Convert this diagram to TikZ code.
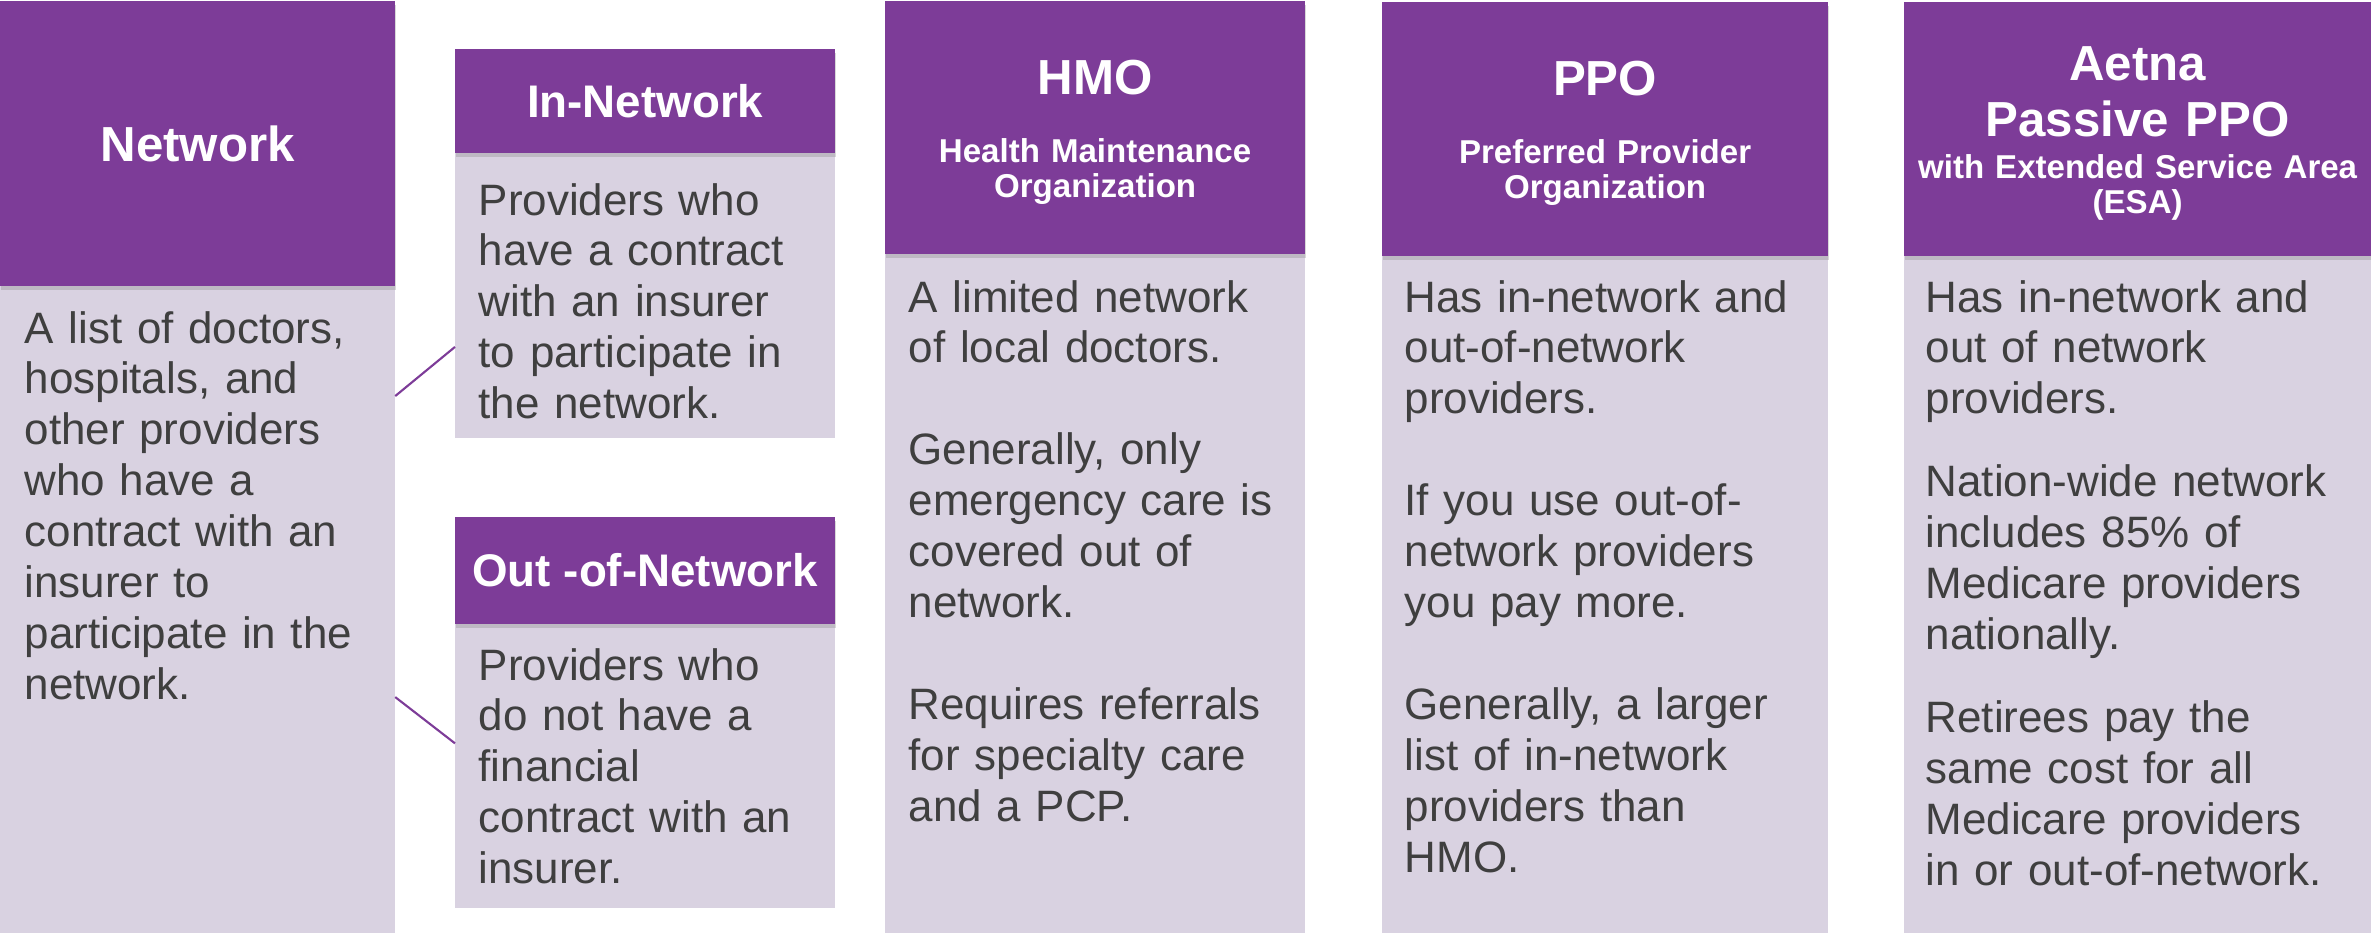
\documentclass[tikz,border=0pt]{standalone}
\usepackage{fontspec}
\setmainfont{Liberation Sans}
\usetikzlibrary{calc,shadows}

\definecolor{aetpurple}{HTML}{7D3C98}
\definecolor{aetlilac}{HTML}{D9D2E1}
\definecolor{bodygrey}{HTML}{3F3F3F}

\tikzset{
  headbox/.style={rectangle, fill=aetpurple, anchor=north west, inner sep=0pt, outer sep=0pt,
    text=white, font=\bfseries\fontsize{14}{16.2}\selectfont,
    drop shadow={shadow xshift=0.3pt, shadow yshift=-1.2pt, opacity=0.3}},
  smallhead/.style={font=\bfseries\fontsize{13}{15}\selectfont},
  bodybox/.style={rectangle, fill=aetlilac, anchor=north west, inner sep=0pt, outer sep=0pt},
  bodytext/.style={anchor=base west, inner sep=0pt, text width=4.4cm, align=left,
    text=bodygrey, font=\fontsize{12.5}{14.5}\selectfont},
  headtitle/.style={anchor=base, inner sep=0pt, align=center, text=white,
    font=\bfseries\fontsize{14}{16.2}\selectfont},
  subtitle/.style={anchor=base, inner sep=0pt, align=center, text=white,
    font=\bfseries\fontsize{9.4}{10.2}\selectfont},
  link/.style={draw=aetpurple, line width=0.6pt}
}

\begin{document}
\begin{tikzpicture}[x=0.01cm, y=-0.01cm]
  \useasboundingbox (0,0) rectangle (2371,933);

  % NETWORK
  \node[bodybox, minimum width=3.95cm, minimum height=6.47cm] (netbody) at (0,286) {};
  \node[headbox, minimum width=3.95cm, minimum height=2.85cm] (nethead) at (0,1) {Network};
  \node[bodytext] (nettext) at (24,343) {A list of doctors,\\hospitals, and\\other providers\\who have a\\contract with an\\insurer to\\participate in the\\network.};

  % IN-NETWORK
  \node[bodybox, minimum width=3.8cm, minimum height=2.85cm] (innbody) at (455,153) {};
  \node[headbox, smallhead, minimum width=3.8cm, minimum height=1.04cm] (innhead) at (455,49) {In-Network};
  \node[bodytext] (inntext) at (478,215) {Providers who\\have a contract\\with an insurer\\to participate in\\the network.};

  % OUT-OF-NETWORK
  \node[bodybox, minimum width=3.8cm, minimum height=2.84cm] (outbody) at (455,624) {};
  \node[headbox, smallhead, minimum width=3.8cm, minimum height=1.07cm] (outhead) at (455,517) {Out -of-Network};
  \node[bodytext] (outtext) at (478,680) {Providers who\\do not have a\\financial\\contract with an\\insurer.};

  \draw[link] ($(netbody.north east)!0.17!(netbody.south east)$) -- ($(innbody.north west)!0.68!(innbody.south west)$);
  \draw[link] ($(netbody.north east)!0.635!(netbody.south east)$) -- ($(outbody.north west)!0.42!(outbody.south west)$);

  % HMO
  \node[bodybox, minimum width=4.2cm, minimum height=6.79cm] (hmobody) at (885,254) {};
  \node[headbox, minimum width=4.2cm, minimum height=2.53cm] (hmohead) at (885,1) {};
  \node[headtitle] (hmotitle) at (hmohead.center |- 0,94) {HMO};
  \node[subtitle, text width=4.2cm] (hmosub) at (hmohead.center |- 0,162) {Health Maintenance\\Organization};
  \node[bodytext] (hmotext) at (908,312) {A limited network\\of local doctors.\\[14.5pt]Generally, only\\emergency care is\\covered out of\\network.\\[14.5pt]Requires referrals\\for specialty care\\and a PCP.};

  % PPO
  \node[bodybox, minimum width=4.46cm, minimum height=6.77cm] (ppobody) at (1382,256) {};
  \node[headbox, minimum width=4.46cm, minimum height=2.54cm] (ppohead) at (1382,2) {};
  \node[headtitle] (ppotitle) at (ppohead.center |- 0,95) {PPO};
  \node[subtitle, text width=4.46cm] (pposub) at (ppohead.center |- 0,163) {Preferred Provider\\Organization};
  \node[bodytext] (ppotext) at (1404,312) {Has in-network and\\out-of-network\\providers.\\[14.5pt]If you use out-of-\\network providers\\you pay more.\\[14.5pt]Generally, a larger\\list of in-network\\providers than\\HMO.};

  % AETNA
  \node[bodybox, minimum width=4.67cm, minimum height=6.77cm] (aetbody) at (1904,256) {};
  \node[headbox, minimum width=4.67cm, minimum height=2.54cm] (aethead) at (1904,2) {};
  \node[headtitle, text width=4.67cm] (aettitle) at (aethead.center |- 0,80) {Aetna\\Passive PPO};
  \node[subtitle, text width=4.67cm] (aetsub) at (aethead.center |- 0,178) {with Extended Service Area\\(ESA)};
  \node[bodytext] (aettext) at (1925,312) {Has in-network and\\out of network\\providers.\\[9pt]Nation-wide network\\includes 85\% of\\Medicare providers\\nationally.\\[9pt]Retirees pay the\\same cost for all\\Medicare providers\\in or out-of-network.};

\end{tikzpicture}
\end{document}
